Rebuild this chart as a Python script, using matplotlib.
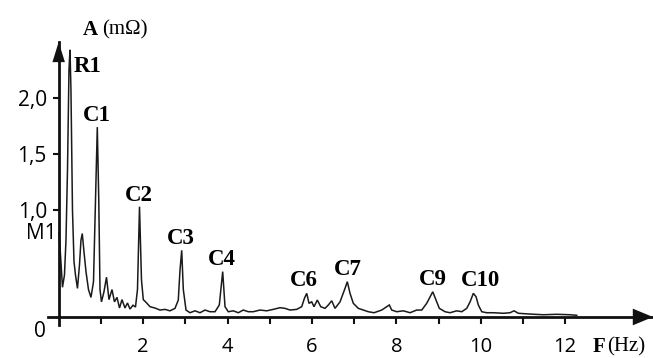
import matplotlib
matplotlib.use('Agg')
import matplotlib.pyplot as plt
import numpy as np

# Amplitude spectrum of the measured impedance (mOhm) against frequency (Hz)
FREQ_HZ = [
    0.007, 0.043, 0.090, 0.137, 0.173, 0.209, 0.244, 0.268, 0.291, 0.327,
    0.363, 0.398, 0.445, 0.493, 0.528, 0.559, 0.600, 0.647, 0.706, 0.765,
    0.825, 0.872, 0.915, 0.950, 0.979, 1.014, 1.073, 1.133, 1.192, 1.263,
    1.322, 1.382, 1.441, 1.500, 1.571, 1.630, 1.690, 1.761, 1.820, 1.867,
    1.915, 1.962, 2.005, 2.085, 2.163, 2.282, 2.400, 2.519, 2.637, 2.756,
    2.834, 2.874, 2.915, 2.953, 3.017, 3.111, 3.230, 3.348, 3.467, 3.585,
    3.704, 3.806, 3.886, 3.941, 4.019, 4.137, 4.256, 4.374, 4.493, 4.611,
    4.770, 4.929, 5.085, 5.244, 5.363, 5.481, 5.640, 5.758, 5.825, 5.877,
    5.931, 5.995, 6.050, 6.128, 6.209, 6.310, 6.389, 6.469, 6.547, 6.666,
    6.784, 6.839, 6.903, 6.981, 7.100, 7.218, 7.336, 7.472, 7.654, 7.773,
    7.834, 7.891, 8.009, 8.166, 8.325, 8.483, 8.602, 8.720, 8.863, 8.941,
    9.019, 9.154, 9.273, 9.431, 9.550, 9.668, 9.747, 9.825, 9.889, 9.943,
    10.024, 10.142, 10.299, 10.536, 10.694, 10.789, 10.891, 11.168, 11.483,
    11.801, 12.116, 12.275,
]
AMP_MOHM = [
    0.800, 0.600, 0.310, 0.420, 0.730, 1.360, 2.250, 2.430, 2.070, 1.000,
    0.540, 0.420, 0.300, 0.510, 0.730, 0.790, 0.625, 0.450, 0.290, 0.220,
    0.360, 1.090, 1.740, 1.090, 0.290, 0.180, 0.270, 0.400, 0.200, 0.290,
    0.180, 0.220, 0.125, 0.200, 0.125, 0.170, 0.116, 0.150, 0.134, 0.290,
    1.030, 0.375, 0.200, 0.170, 0.137, 0.125, 0.107, 0.113, 0.100, 0.122,
    0.196, 0.460, 0.640, 0.290, 0.107, 0.083, 0.100, 0.083, 0.107, 0.092,
    0.092, 0.152, 0.450, 0.137, 0.092, 0.100, 0.083, 0.107, 0.092, 0.092,
    0.107, 0.100, 0.113, 0.128, 0.122, 0.107, 0.113, 0.137, 0.214, 0.256,
    0.167, 0.180, 0.137, 0.196, 0.137, 0.122, 0.152, 0.190, 0.122, 0.180,
    0.300, 0.360, 0.256, 0.167, 0.122, 0.107, 0.092, 0.083, 0.107, 0.137,
    0.152, 0.107, 0.092, 0.100, 0.083, 0.107, 0.107, 0.167, 0.270, 0.196,
    0.122, 0.092, 0.083, 0.100, 0.092, 0.122, 0.180, 0.256, 0.226, 0.152,
    0.092, 0.083, 0.083, 0.078, 0.083, 0.100, 0.078, 0.071, 0.065,
    0.069, 0.065, 0.060,
]

PEAK_NAMES = ['R1', 'C1', 'C2', 'C3', 'C4', 'C6', 'C7', 'C9', 'C10']
PEAK_FREQ = [0.268, 0.915, 1.915, 2.915, 3.886, 5.877, 6.839, 8.863, 9.825]

YTICKS = [1.0, 1.5, 2.0]
YTICK_LABELS = ['1,0', '1,5', '2,0']
XTICKS_MAJOR = [2, 4, 6, 8, 10, 12]
XTICK_LABELS = ['2', '4', '6', '8', '10', '12']
XTICKS_MINOR = [1, 3, 5, 7, 9, 11]
M1_LEVEL = 0.79

# label offsets (points) from each peak top
PEAK_OFFSETS = {
    'R1': (13, -12), 'C1': (0, 8.4), 'C2': (-0.4, 8.1), 'C3': (-0.5, 8.4),
    'C4': (-0.5, 8.4), 'C6': (-1.9, 8.9), 'C7': (0.5, 8.9), 'C9': (0, 8.9),
    'C10': (5.5, 9.6),
}

SANS = 'Open Sans'
SERIF = 'Liberation Serif'
AXIS_Y = 0.045  # height of the drawn frequency axis


def main():
    fig = plt.figure(figsize=(6.53, 3.58), dpi=100)
    ax = fig.add_axes([0.0737, 0.0911, 0.9262, 0.7916])

    ax.plot(FREQ_HZ, AMP_MOHM, color='#1a1a1a', linewidth=1.1,
            solid_joinstyle='miter')

    ax.set_xlim(-0.25, 14.08)
    ax.set_ylim(-0.03, 2.5)

    for side in ('top', 'right'):
        ax.spines[side].set_visible(False)
    ax.spines['left'].set_position(('data', 0))
    ax.spines['bottom'].set_position(('data', AXIS_Y))
    for side in ('left', 'bottom'):
        ax.spines[side].set_linewidth(2.0)
        ax.spines[side].set_color('#111111')

    # arrow heads on both axes
    head = dict(arrowstyle='-|>,head_length=1.45,head_width=0.45',
                mutation_scale=10, lw=0, color='#111111',
                shrinkA=0, shrinkB=0)
    ax.annotate('', xy=(0, 1), xytext=(0, 0.9),
                xycoords=('data', 'axes fraction'),
                textcoords=('data', 'axes fraction'), arrowprops=head)
    head_x = dict(head, arrowstyle='-|>,head_length=1.45,head_width=0.6')
    ax.annotate('', xy=(1, AXIS_Y), xytext=(0.95, AXIS_Y),
                xycoords=('axes fraction', 'data'),
                textcoords=('axes fraction', 'data'), arrowprops=head_x)

    ax.set_xticks(XTICKS_MAJOR)
    ax.set_xticklabels(XTICK_LABELS, fontfamily=SANS, fontsize=14.5)
    ax.set_xticks(XTICKS_MINOR, minor=True)
    ax.tick_params(axis='x', which='both', direction='out', length=5,
                   width=1.5, color='#111111', pad=9.5)
    ax.set_yticks(YTICKS)
    ax.set_yticklabels(YTICK_LABELS, fontfamily=SANS, fontsize=15)
    ax.tick_params(axis='y', direction='out', length=4, width=1.5,
                   color='#111111', pad=4.5)

    ax.annotate('0', xy=(0, AXIS_Y), xytext=(-13.5, -10.8),
                textcoords='offset points', ha='center', va='center',
                fontfamily=SANS, fontsize=15, annotation_clip=False)
    ax.annotate('M1', xy=(0, M1_LEVEL), xytext=(-1.5, 0),
                textcoords='offset points', ha='right', va='center',
                fontfamily=SANS, fontsize=15, annotation_clip=False)

    peak_amp = np.interp(PEAK_FREQ, FREQ_HZ, AMP_MOHM)
    for name, f, a in zip(PEAK_NAMES, PEAK_FREQ, peak_amp):
        ax.annotate(name, xy=(f, a), xytext=PEAK_OFFSETS[name],
                    textcoords='offset points', ha='center', va='center',
                    fontfamily=SERIF, fontweight='bold', fontsize=16.5)

    # axis titles: bold symbol followed by the unit
    fig.text(90.3 / 653, 1 - 30 / 358, 'A', ha='center', va='center',
             fontfamily=SERIF, fontweight='bold', fontsize=15)
    fig.text(125 / 653, 1 - 30 / 358, '(m\u03a9)', ha='center', va='center',
             fontfamily=SERIF, fontsize=15)
    fig.text(599 / 653, 1 - 347 / 358, 'F', ha='center', va='center',
             fontfamily=SERIF, fontweight='bold', fontsize=15)
    fig.text(607 / 653, 1 - 347 / 358, '(Hz)', ha='left', va='center',
             fontfamily=SERIF, fontsize=15)

    fig.savefig('out.png', dpi=100)
    plt.close(fig)


if __name__ == '__main__':
    main()
